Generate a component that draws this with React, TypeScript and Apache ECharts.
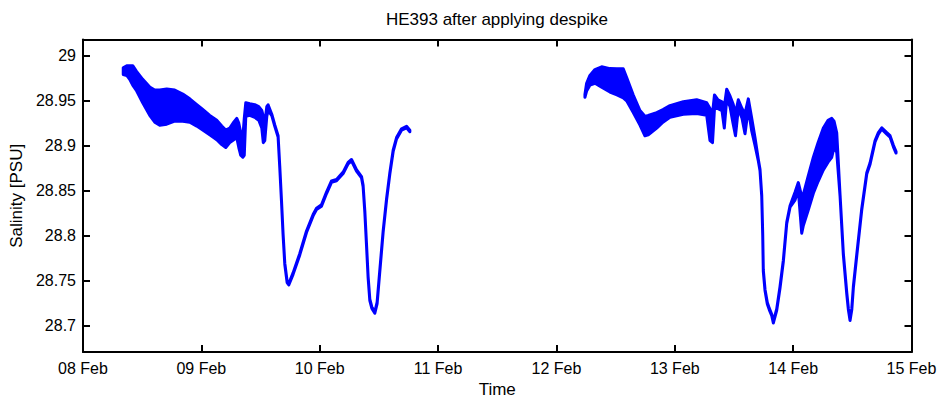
import { useEffect, useRef } from 'react';
import * as echarts from 'echarts';

// First deployment: hours after 08 Feb 00:00, mean salinity and half-width of the noise band (PSU)
const hoursA = [
  8.16, 8.87, 9.47, 10.08, 10.89, 12.11, 13.53, 14.55, 15.56, 16.98,
  18.6, 20.23, 21.65, 23.07, 24.28, 25.7, 27.12, 28.14, 28.95, 29.76,
  30.57, 31.18, 31.59, 31.99, 32.4, 32.7, 33.01, 33.82, 34.83, 35.64,
  36.25, 36.56, 36.86, 37.27, 37.53, 38.28, 38.89, 39.56, 39.9, 40.25,
  40.57, 40.92, 41.39, 41.73, 42.6, 43.96, 45.32, 46.66, 47.35, 48.36,
  49.38, 50.39, 51.41, 52.75, 53.76, 54.45, 55.46, 56.48, 56.8, 57.15,
  57.49, 57.82, 58.16, 58.57, 59.18, 59.64, 60.19, 60.86, 61.55, 62.22,
  62.89, 63.58, 64.59, 65.61, 66.28,
];
const salinityA = [
  28.9829, 28.9835, 28.9813, 28.9781, 28.9716, 28.9608, 28.9495, 28.9441, 28.9424, 28.9435,
  28.9446, 28.9424, 28.9392, 28.9338, 28.9289, 28.923, 28.9175, 28.9116, 28.9078, 28.9116,
  28.9165, 28.9197, 28.9116, 28.9019, 28.8981, 28.91, 28.9403, 28.9403, 28.9386, 28.9359,
  28.9295, 28.9181, 28.9154, 28.9381, 28.9424, 28.9343, 28.9224, 28.9105, 28.8765, 28.8387,
  28.8019, 28.7689, 28.749, 28.7463, 28.7581, 28.7797, 28.8046, 28.823, 28.83, 28.8338,
  28.8478, 28.8603, 28.8619, 28.87, 28.8808, 28.884, 28.8727, 28.8651, 28.8554, 28.8268,
  28.79, 28.7538, 28.729, 28.7203, 28.7149, 28.7257, 28.7614, 28.8046, 28.8403, 28.8694,
  28.8943, 28.9084, 28.9181, 28.9208, 28.9165,
];
const spreadA = [
  0.0038, 0.0054, 0.0076, 0.0108, 0.0108, 0.013, 0.0157, 0.0179, 0.0195, 0.0195,
  0.0173, 0.0151, 0.013, 0.0119, 0.0114, 0.0108, 0.0108, 0.0103, 0.0097, 0.0081,
  0.0097, 0.0108, 0.0135, 0.0124, 0.0108, 0.0205, 0.0076, 0.0065, 0.007, 0.0076,
  0.0097, 0.0146, 0.0097, 0.0054, 0.0032, 0.0008, 0.0008, 0.0008, 0.0008, 0.0008,
  0.0008, 0.0008, 0.0008, 0.0008, 0.0008, 0.0008, 0.0008, 0.0008, 0.0008, 0.0008,
  0.0008, 0.0008, 0.0008, 0.0008, 0.0008, 0.0008, 0.0008, 0.0008, 0.0008, 0.0008,
  0.0008, 0.0008, 0.0008, 0.0008, 0.0008, 0.0008, 0.0008, 0.0008, 0.0008, 0.0008,
  0.0008, 0.0008, 0.0008, 0.0008, 0.0008,
];

// Second deployment
const hoursB = [
  101.78, 102.12, 102.79, 103.81, 105.17, 106.85, 108.27, 109.55, 110.24, 111.58,
  112.94, 113.95, 114.62, 116.33, 117.6, 119.02, 121.72, 124.44, 126.47, 127.14,
  127.65, 128.05, 128.76, 129.57, 130.04, 130.53, 131.2, 131.81, 132.31, 132.88,
  133.63, 134.24, 134.91, 135.6, 136.27, 136.94, 137.28, 137.63, 137.83, 137.95,
  138.3, 138.76, 139.17, 139.66, 139.98, 140.67, 141.34, 142.01, 142.7, 143.37,
  144.38, 145.05, 145.74, 146.07, 147.02, 148.1, 149.05, 150.12, 151.08, 151.83,
  152.29, 152.84, 153.51, 154.18, 154.87, 155.2, 155.54, 155.89, 156.21, 156.9,
  157.91, 158.93, 159.6, 160.61, 161.28, 161.97, 162.99, 163.65, 164.33, 164.87,
];
const salinityB = [
  28.9554, 28.9651, 28.9727, 28.977, 28.9764, 28.9727, 28.971, 28.9694, 28.9629, 28.9467,
  28.9311, 28.9219, 28.9229, 28.9283, 28.9332, 28.9381, 28.9419, 28.9435, 28.9408, 28.9235,
  28.9197, 28.9489, 28.9462, 28.944, 28.9316, 28.9575, 28.9494, 28.9359, 28.9235, 28.9462,
  28.9359, 28.9246, 28.9467, 28.9235, 28.9046, 28.884, 28.8732, 28.8446, 28.8014, 28.7614,
  28.7398, 28.7252, 28.7187, 28.7122, 28.7041, 28.7182, 28.743, 28.7722, 28.8143, 28.8327,
  28.8441, 28.8549, 28.8235, 28.8289, 28.8468, 28.8673, 28.8819, 28.8965, 28.9051, 28.9089,
  28.9127, 28.9035, 28.8451, 28.7797, 28.7365, 28.7187, 28.7068, 28.7187, 28.743, 28.7787,
  28.8295, 28.8694, 28.8803, 28.9051, 28.9138, 28.9192, 28.9138, 28.9105, 28.8997, 28.8927,
];
const spreadB = [
  0.0015, 0.0043, 0.0054, 0.0076, 0.0113, 0.013, 0.0146, 0.0162, 0.013, 0.0097,
  0.0081, 0.0108, 0.0108, 0.0086, 0.007, 0.0065, 0.007, 0.0076, 0.007, 0.0178,
  0.0162, 0.0076, 0.0049, 0.0049, 0.0119, 0.0054, 0.0059, 0.0108, 0.0124, 0.0049,
  0.0054, 0.0113, 0.0054, 0.007, 0.0043, 0.0008, 0.0008, 0.0008, 0.0008, 0.0008,
  0.0008, 0.0008, 0.0008, 0.0008, 0.0008, 0.0008, 0.0008, 0.0008, 0.0008, 0.0008,
  0.0043, 0.0043, 0.0205, 0.0173, 0.0189, 0.02, 0.0216, 0.0232, 0.0232, 0.0216,
  0.0146, 0.0108, 0.0008, 0.0008, 0.0008, 0.0008, 0.0008, 0.0008, 0.0008, 0.0008,
  0.0008, 0.0008, 0.0008, 0.0008, 0.0008, 0.0008, 0.0008, 0.0008, 0.0008, 0.0008,
];

const dayLabels = ['08 Feb', '09 Feb', '10 Feb', '11 Feb', '12 Feb', '13 Feb', '14 Feb', '15 Feb'];
const yTicks = [28.7, 28.75, 28.8, 28.85, 28.9, 28.95, 29];

const BLUE = '#0000ff';
const FONT = '"Liberation Sans", Arial, Helvetica, sans-serif';

const deployments = [
  { hours: hoursA, sal: salinityA, spread: spreadA },
  { hours: hoursB, sal: salinityB, spread: spreadB },
];

export default function App() {
  const ref = useRef<HTMLDivElement>(null);

  useEffect(() => {
    if (!ref.current) return;
    const chart = echarts.init(ref.current, null, { renderer: 'svg' });

    const frame = { show: true, onZero: false, lineStyle: { color: '#000', width: 2 } };
    const tick = { show: true, inside: true, length: 7, lineStyle: { color: '#000', width: 2 } };
    const label = { color: '#000', fontSize: 16, fontFamily: FONT };

    const xBase = {
      type: 'value',
      min: 0,
      max: 168,
      interval: 24,
      splitLine: { show: false },
      axisLine: frame,
      axisTick: tick,
    };
    const yBase = {
      type: 'value',
      min: 28.671,
      max: 29.018,
      splitLine: { show: false },
      axisLine: frame,
      axisTick: { ...tick, customValues: yTicks },
    };

    chart.setOption({
      animation: false,
      backgroundColor: '#fff',
      textStyle: { fontFamily: FONT },
      grid: { left: 83, right: 31.5, top: 39.5, bottom: 43, containLabel: false },
      graphic: [
        {
          type: 'text',
          x: 497,
          y: 11,
          style: {
            text: 'HE393 after applying despike',
            fill: '#000',
            font: '17px ' + FONT,
            textAlign: 'center',
            textVerticalAlign: 'top',
          },
        },
      ],
      xAxis: [
        {
          ...xBase,
          position: 'bottom',
          name: 'Time',
          nameLocation: 'middle',
          nameGap: 28,
          nameTextStyle: { ...label, fontSize: 17 },
          axisLabel: {
            ...label,
            margin: 8,
            showMinLabel: true,
            showMaxLabel: true,
            formatter: (v: number) => dayLabels[Math.round(v / 24)] ?? '',
          },
        },
        { ...xBase, position: 'top', axisLabel: { show: false } },
      ],
      yAxis: [
        {
          ...yBase,
          position: 'left',
          name: 'Salinity [PSU]',
          nameLocation: 'middle',
          nameGap: 53,
          nameTextStyle: { ...label, fontSize: 17 },
          axisLabel: { ...label, margin: 7, customValues: yTicks },
        },
        { ...yBase, position: 'right', axisLabel: { show: false, customValues: yTicks } },
      ],
      series: [
        {
          // Each item is one deployment; its noise band is drawn as a filled outline
          type: 'custom',
          coordinateSystem: 'cartesian2d',
          xAxisIndex: 0,
          yAxisIndex: 0,
          clip: true,
          silent: true,
          data: deployments.map((d) => [d.hours[0], d.sal[0]]),
          encode: { x: 0, y: 1 },
          renderItem: (params: any, api: any) => {
            const d = deployments[params.dataIndex];
            const upper = d.hours.map((h, i) => api.coord([h, d.sal[i] + d.spread[i]]));
            const lower = d.hours.map((h, i) => api.coord([h, d.sal[i] - d.spread[i]])).reverse();
            return {
              type: 'polygon',
              shape: { points: upper.concat(lower) },
              style: { fill: BLUE, stroke: BLUE, lineWidth: 3, lineJoin: 'round' },
            };
          },
        },
      ],
    } as any);

    return () => chart.dispose();
  }, []);

  return (
    <div
      ref={ref}
      style={{ position: 'fixed', left: 0, top: 0, width: 943, height: 403, background: '#fff' }}
    />
  );
}
